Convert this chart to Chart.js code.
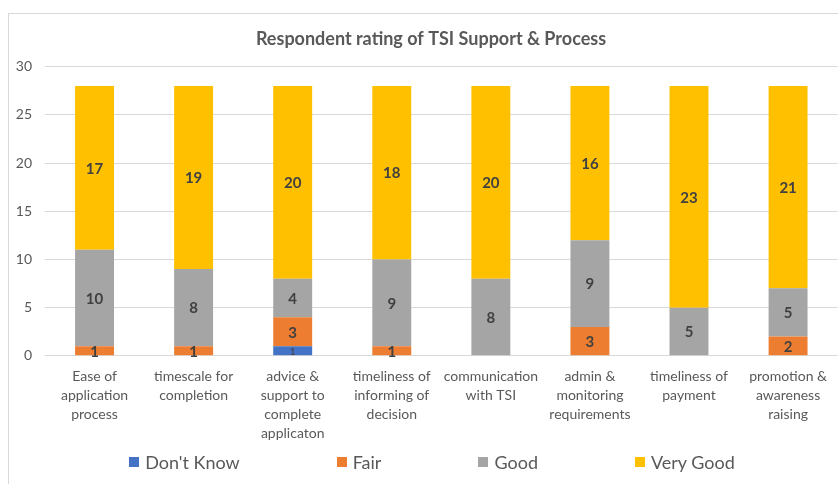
<!DOCTYPE html>
<html><head><meta charset="utf-8">
<script src="https://cdn.jsdelivr.net/npm/chart.js@4/dist/chart.umd.min.js"></script>
<style>
html,body{margin:0;padding:0;background:#fff;}
#wrap{position:relative;width:838px;height:484px;overflow:hidden;background:#fff;}
#frame{position:absolute;left:8px;top:13px;width:900px;height:600px;border-left:1px solid #d9d9d9;border-top:1px solid #d9d9d9;box-sizing:border-box;}
#c{position:absolute;left:0;top:0;}
#legend{position:absolute;left:26px;right:0;top:450px;height:24px;display:flex;justify-content:center;align-items:center;gap:97px;font-family:Lato,sans-serif;font-size:18px;color:#595959;}
#legend .it{display:flex;align-items:center;white-space:nowrap;}
#legend .bx{width:10px;height:10px;margin-right:6px;display:inline-block;}
</style></head>
<body>
<div id="wrap">
<div id="frame"></div>
<canvas id="c" width="838" height="484"></canvas>
<div id="legend"></div>
</div>
<script>
const categories = [
  ["Ease of","application","process"],
  ["timescale for","completion"],
  ["advice &","support to","complete","applicaton"],
  ["timeliness of","informing of","decision"],
  ["communication","with TSI"],
  ["admin &","monitoring","requirements"],
  ["timeliness of","payment"],
  ["promotion &","awareness","raising"]
];
const dontKnow = [0, 0, 1, 0, 0, 0, 0, 0];
const fair     = [1, 1, 3, 1, 0, 3, 0, 2];
const good     = [10, 8, 4, 9, 8, 9, 5, 5];
const veryGood = [17, 19, 20, 18, 20, 16, 23, 21];
const seriesNames = ["Don't Know", "Fair", "Good", "Very Good"];
const seriesColors = ["#4472C4", "#ED7D31", "#A5A5A5", "#FFC000"];
const yTicks = [0, 5, 10, 15, 20, 25, 30];

const seriesData = [dontKnow, fair, good, veryGood];

const labelPlugin = {
  id: 'segLabels',
  afterDatasetsDraw(chart) {
    const ctx = chart.ctx;
    ctx.save();
    ctx.textAlign = 'center';
    ctx.textBaseline = 'middle';
    ctx.fillStyle = '#404040';
    chart.data.datasets.forEach((ds, di) => {
      const meta = chart.getDatasetMeta(di);
      meta.data.forEach((el, i) => {
        const v = ds.data[i];
        if (!v) return;
        ctx.font = di === 0 ? '10px Lato' : 'bold 15px Lato';
        const y = (el.y + el.base) / 2;
        ctx.fillText(String(v), el.x, y + 1);
      });
    });
    ctx.restore();
  }
};

const titleShift = {
  id: 'titleShift',
  afterLayout(chart) {
    if (chart.titleBlock) chart.titleBlock.left = 24;
  }
};

const chart = new Chart(document.getElementById('c'), {
  type: 'bar',
  data: {
    labels: categories,
    datasets: seriesData.map((d, i) => ({
      label: seriesNames[i],
      data: d,
      backgroundColor: seriesColors[i],
      borderWidth: 0,
      categoryPercentage: 1,
      barPercentage: 0.393
    }))
  },
  options: {
    responsive: false,
    devicePixelRatio: 1,
    animation: false,
    layout: { padding: { left: 10, right: 0, top: 28, bottom: 30 } },
    plugins: {
      legend: { display: false },
      tooltip: { enabled: false },
      title: {
        display: true,
        text: 'Respondent rating of TSI Support & Process',
        color: '#595959',
        font: { family: 'Lato', size: 18, weight: 'bold' },
        padding: { top: 0, bottom: 17 }
      }
    },
    scales: {
      x: {
        stacked: true,
        grid: { display: false, drawTicks: false },
        border: { display: false },
        ticks: {
          color: '#595959',
          font: { family: 'Lato', size: 14, lineHeight: 1.36 },
          padding: 11,
          maxRotation: 0,
          autoSkip: false
        }
      },
      y: {
        stacked: true,
        min: 0, max: 30,
        afterFit(scale) { scale.width = 35; },
        afterBuildTicks(scale) { scale.ticks = yTicks.map(v => ({ value: v })); },
        grid: { color: '#d9d9d9', drawTicks: false, lineWidth: 1 },
        border: { display: false },
        ticks: {
          color: '#595959',
          font: { family: 'Lato', size: 14 },
          padding: 13
        }
      }
    }
  },
  plugins: [labelPlugin, titleShift]
});

const lg = document.getElementById('legend');
chart.data.datasets.forEach(ds => {
  const it = document.createElement('span');
  it.className = 'it';
  const bx = document.createElement('span');
  bx.className = 'bx';
  bx.style.background = ds.backgroundColor;
  it.appendChild(bx);
  it.appendChild(document.createTextNode(ds.label));
  lg.appendChild(it);
});
</script>
</body></html>
